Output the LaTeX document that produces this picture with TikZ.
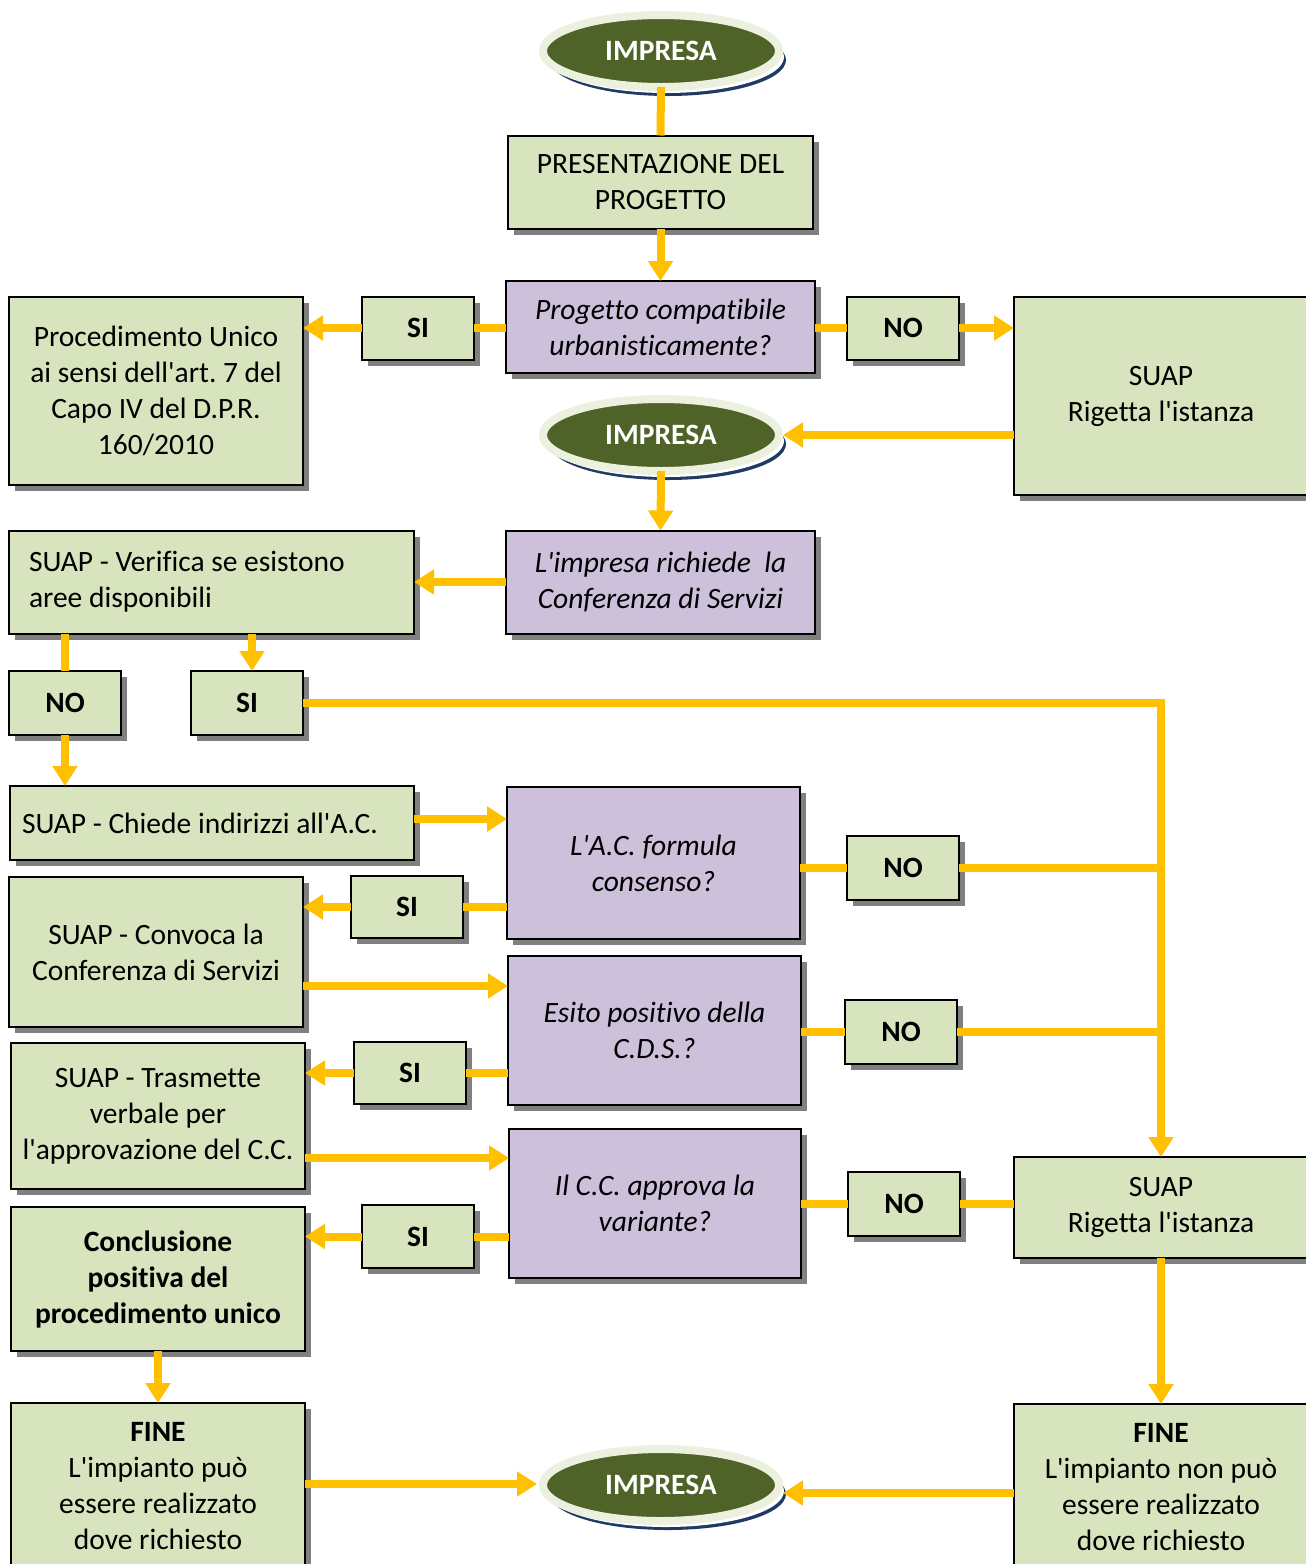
\documentclass[tikz,border=0pt]{standalone}
\usepackage{fontspec}
\setmainfont{Carlito}[Ligatures={TeXOff,NoCommon}]
\usetikzlibrary{arrows.meta,shapes.geometric,shadows}
\definecolor{boxgreen}{HTML}{D7E4BD}
\definecolor{boxpurple}{HTML}{CCC0DA}
\definecolor{ellgreen}{HTML}{4F6228}
\definecolor{ellrim}{HTML}{EBF1DE}
\definecolor{ellshadow}{HTML}{1F3A64}
\definecolor{conn}{HTML}{FFC000}
\definecolor{shadowgray}{HTML}{808080}
\frenchspacing
\begin{document}
\begin{tikzpicture}[x=1pt,y=-1pt,
  every node/.style={font=\fontsize{29.5}{36}\selectfont, inner sep=0pt, outer sep=0pt},
  basebox/.style={rectangle, draw=black, line width=2pt, align=center,
    general shadow={fill=shadowgray, shadow xshift=6pt, shadow yshift=-6pt}},
  gbox/.style={basebox, fill=boxgreen},
  pbox/.style={basebox, fill=boxpurple, font=\fontsize{29.5}{36}\selectfont\itshape},
  yn/.style={gbox, minimum width=112pt, minimum height=63pt, font=\fontsize{29.5}{36}\selectfont\bfseries},
  impresa/.style={ellipse, fill=ellgreen, draw=ellrim, line width=8pt,
    minimum width=236pt, minimum height=72pt, text=white,
    font=\fontsize{29.5}{36}\selectfont\bfseries,
    general shadow={fill=ellshadow, shadow xshift=7pt, shadow yshift=-9pt},
    general shadow={fill=white, shadow xshift=5pt, shadow yshift=-6pt}},
  link/.style={draw=conn, line width=8pt},
  arr/.style={link, -{Triangle[width=24pt,length=20pt]}},
]
\useasboundingbox (0,0) rectangle (1306,1564);
\fill[white] (0,0) rectangle (1306,1564);

% nodes
\node[impresa] (imp1) at (661,51) {IMPRESA};
\node[gbox, minimum width=305pt, minimum height=93pt] (pres) at (660.5,182) {PRESENTAZIONE DEL\\PROGETTO};
\node[pbox, minimum width=309pt, minimum height=92pt] (q1) at (660.5,327) {Progetto compatibile\\urbanisticamente?};
\node[yn] (si1) at (418,328) {SI};
\node[gbox, minimum width=294pt, minimum height=188pt] (proc) at (156,391) {Procedimento Unico\\ai sensi dell'art. 7 del\\Capo IV del D.P.R.\\160/2010};
\node[yn] (no1) at (903,328) {NO};
\node[gbox, minimum width=294pt, minimum height=198pt] (rig1) at (1161,396) {SUAP\\Rigetta l'istanza};
\node[impresa] (imp2) at (661,435) {IMPRESA};
\node[pbox, minimum width=309pt, minimum height=103pt] (q2) at (660.5,582) {L'impresa richiede\ \ la\\Conferenza di Servizi};
\node[gbox, minimum width=405pt, minimum height=103pt, inner xsep=20pt, text width=365pt, align=flush left] (ver) at (211.5,582) {SUAP - Verifica se esistono\\aree disponibili};
\node[yn, minimum height=64pt] (noA) at (65,703) {NO};
\node[yn, minimum height=64pt] (siA) at (247,703) {SI};
\node[gbox, minimum width=404pt, minimum height=74pt, inner xsep=12pt, text width=380pt, align=flush left] (chi) at (212,823) {SUAP - Chiede indirizzi all'A.C.};
\node[pbox, minimum width=293pt, minimum height=152pt] (q3) at (653.5,863) {L'A.C. formula\\consenso?};
\node[yn, minimum height=64pt] (no3) at (903,868) {NO};
\node[yn, minimum height=62pt] (si3) at (407,907) {SI};
\node[gbox, minimum width=294pt, minimum height=150pt] (conv) at (156,952) {SUAP - Convoca la\\Conferenza di Servizi};
\node[pbox, minimum width=293pt, minimum height=149pt] (q4) at (654.5,1030.5) {Esito positivo della\\C.D.S.?};
\node[yn, minimum height=64pt] (no4) at (901,1032) {NO};
\node[yn, minimum height=62pt] (si4) at (410,1073) {SI};
\node[gbox, minimum width=294pt, minimum height=146pt] (tras) at (158,1116) {SUAP - Trasmette\\verbale per\\l'approvazione del C.C.};
\node[pbox, minimum width=292pt, minimum height=149pt] (q5) at (655,1203.5) {Il C.C. approva la\\variante?};
\node[yn, minimum height=64pt] (no5) at (904,1204) {NO};
\node[gbox, minimum width=294pt, minimum height=101pt] (rig2) at (1161,1207.5) {SUAP\\Rigetta l'istanza};
\node[yn] (si5) at (418,1236.5) {SI};
\node[gbox, minimum width=294pt, minimum height=144pt, font=\fontsize{29.5}{36}\selectfont\bfseries] (conc) at (158,1279) {Conclusione\\positiva del\\procedimento unico};
\node[gbox, minimum width=294pt, minimum height=166pt] (fine1) at (158,1486) {\textbf{FINE}\\L'impianto può\\essere realizzato\\dove richiesto};
\node[gbox, minimum width=294pt, minimum height=166pt] (fine2) at (1161,1487) {\textbf{FINE}\\L'impianto non può\\essere realizzato\\dove richiesto};
\node[impresa] (imp3) at (661,1485) {IMPRESA};

% connectors
\draw[link] (imp1.south) -- (pres.north);
\draw[arr] (pres.south) -- (q1.north);
\draw[link] (si1.east -| q1.west) -- (si1.east);
\draw[arr] (si1.west) -- (si1.west -| proc.east);
\draw[link] (no1.west -| q1.east) -- (no1.west);
\draw[arr] (no1.east) -- (no1.east -| rig1.west);
\draw[arr] (rig1.west |- imp2.east) -- ([xshift=4pt]imp2.east);
\draw[arr] (imp2.south) -- (q2.north);
\draw[arr] (q2.west) -- (q2.west -| ver.east);
\draw[link] (noA.north |- ver.south) -- (noA.north);
\draw[arr] ([xshift=5pt]siA.north |- ver.south) -- ([xshift=5pt]siA.north);
\draw[arr] (noA.south) -- (noA.south |- chi.north);
\draw[arr] (siA.east) -| (rig2.north);
\draw[arr] ([yshift=4pt]chi.east) -- ([yshift=4pt]chi.east -| q3.west);
\draw[link] (no3.west -| q3.east) -- (no3.west);
\draw[link] (no3.east) -- (no3.east -| rig2.north);
\draw[link] (si3.east -| q3.west) -- (si3.east);
\draw[arr] (si3.west) -- (si3.west -| conv.east);
\draw[arr] (conv.east |- 0,986) -- (q4.west |- 0,986);
\draw[link] (no4.west -| q4.east) -- (no4.west);
\draw[link] (no4.east) -- (no4.east -| rig2.north);
\draw[link] (si4.east -| q4.west) -- (si4.east);
\draw[arr] (si4.west) -- (si4.west -| tras.east);
\draw[arr] (tras.east |- 0,1158) -- (q5.west |- 0,1158);
\draw[link] (no5.west -| q5.east) -- (no5.west);
\draw[link] (no5.east) -- (no5.east -| rig2.west);
\draw[link] (si5.east -| q5.west) -- (si5.east);
\draw[arr] (si5.west) -- (si5.west -| conc.east);
\draw[arr] (conc.south) -- (conc.south |- fine1.north);
\draw[arr] (fine1.east |- 0,1484) -- ([xshift=-6pt]imp3.west |- 0,1484);
\draw[arr] (rig2.south) -- (fine2.north);
\draw[arr] (fine2.west |- 0,1493) -- ([xshift=4pt]imp3.east |- 0,1493);
\end{tikzpicture}
\end{document}
